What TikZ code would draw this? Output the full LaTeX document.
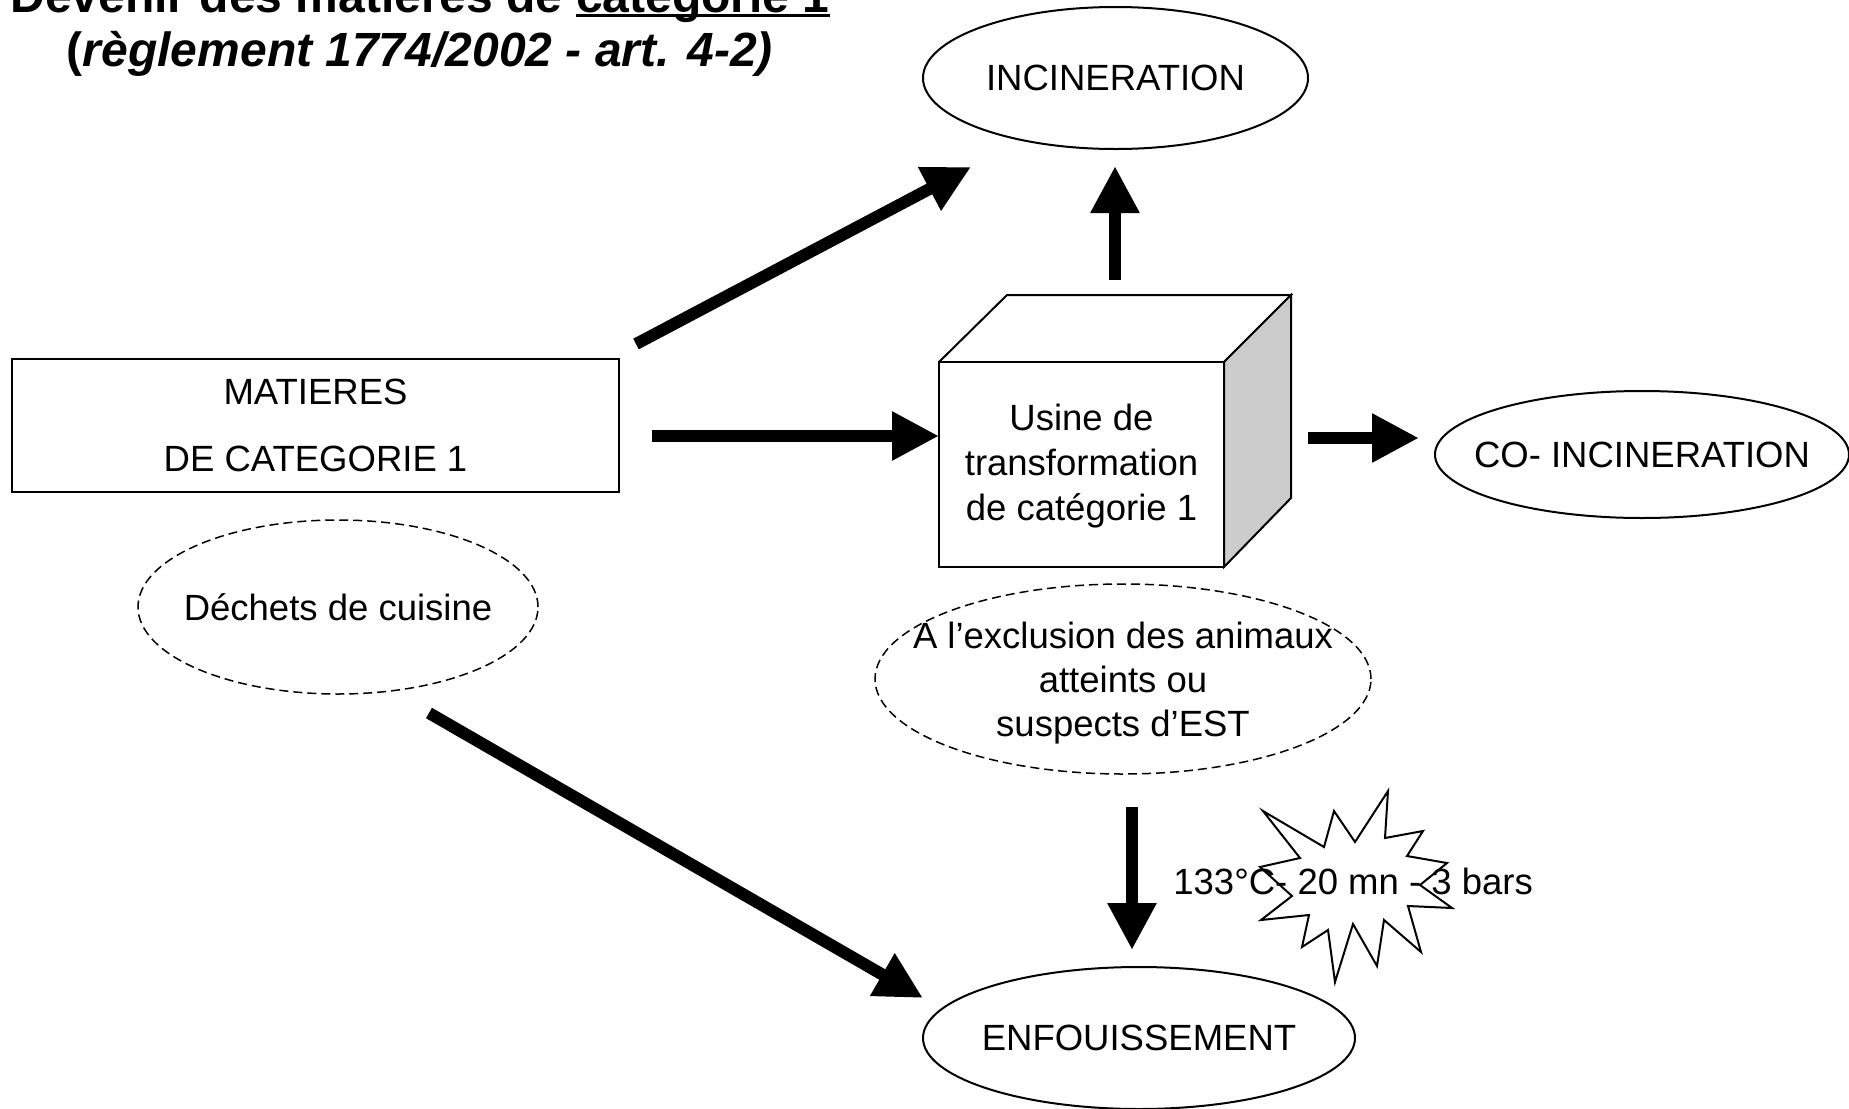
\documentclass[tikz,border=0pt]{standalone}
\usepackage{fontspec}
\setmainfont{Liberation Sans}
\usetikzlibrary{shapes.geometric,arrows.meta}
\definecolor{cubeside}{RGB}{204,204,204}
\newcommand\myul[1]{\setbox0\hbox{#1}\rlap{\rule[-0.11em]{\wd0}{0.06em}}\box0}
\begin{document}
\begin{tikzpicture}[x=0.5pt,y=-0.5pt]
\tikzset{
  lbl/.style={font=\fontsize{18.25}{22}\selectfont, inner sep=0pt},
  titlefont/.style={font=\fontsize{24}{28}\selectfont\bfseries, inner sep=0pt, anchor=base},
  oval/.style={ellipse, draw, line width=1pt, lbl, inner xsep=-60pt, inner ysep=-25pt},
  dashoval/.style={ellipse, draw, line width=0.75pt, dash pattern=on 4.5pt off 2.5pt, lbl, inner xsep=-60pt, inner ysep=-25pt},
  bigarrow/.style={line width=6pt, -{Triangle[length=23.5pt,width=23pt]}},
  thinline/.style={line width=1pt},
}
\useasboundingbox (0,0) rectangle (1849,1109);
\fill[white] (0,0) rectangle (1849,1109);
\clip (0,0) rectangle (1849,1109);

% title
\node[titlefont] (t1) at (420,12) {Devenir des matières de \myul{catégorie 1}};
\node[titlefont] (t2) at (420,66) {(\textit{règlement 1774/2002 - art. 4-2)}};

% nodes
\node[draw, thinline, lbl, align=center, minimum width=303.5pt, minimum height=66.5pt,
      font=\fontsize{18.25}{33.5}\selectfont] (mat) at (315.5,425.5) {MATIERES\\DE CATEGORIE 1};
\node[oval, minimum width=192.5pt, minimum height=71pt] (inc) at (1115.5,78) {INCINERATION};
\node[oval, minimum width=207pt, minimum height=63.5pt] (coinc) at (1642,454.5) {CO- INCINERATION};
\node[oval, minimum width=216pt, minimum height=71pt] (enf) at (1139,1038) {ENFOUISSEMENT};
\node[dashoval, minimum width=200pt, minimum height=87pt] (dech) at (338,607) {Déchets de cuisine};
\node[dashoval, align=center, minimum width=248pt, minimum height=95pt] (excl) at (1123,679)
  {\rule{0pt}{17pt}A l’exclusion des animaux\\atteints ou\\suspects d’EST};

% cube
\node[draw, thinline, fill=white, lbl, outer sep=0pt, align=center, minimum width=142.5pt, minimum height=102.5pt,
      font=\fontsize{18.25}{22.5}\selectfont] (usine) at (1081.5,464.5) {\rule{0pt}{15pt}Usine de\\transformation\\de catégorie 1};
\coordinate (btl) at (1007,295);
\coordinate (btr) at (1291,295);
\coordinate (bbr) at (1291,498);
\draw[thinline, line join=miter] (usine.north west) -- (btl) -- (btr) -- (usine.north east);
\draw[thinline, fill=cubeside, line join=miter] (usine.north east) -- (btr) -- (bbr) -- (usine.south east) -- cycle;

% starburst and condition label
\draw[thinline, fill=white, line join=miter]
  (1388,791) -- (1385,838) -- (1423,831) -- (1407,856) -- (1447,863) -- (1420,885) --
  (1452,908) -- (1408,906) -- (1421,952) -- (1384,920) -- (1377,966) -- (1353,924) --
  (1335,982) -- (1328,930) -- (1302,947) -- (1309,915) -- (1261,920) -- (1292,896) --
  (1260,867) -- (1300,858) -- (1263,811) -- (1324,847) -- (1334,811) -- (1355,842) -- cycle;
\node[lbl, anchor=base west] (cond) at (1173,894) {133°C- 20 mn - 3 bars};

% arrows
\coordinate (a1s) at (636,344);  \coordinate (a1e) at (971,167);
\coordinate (a2s) at (652,436);  \coordinate (a2e) at (939,436);
\coordinate (a3s) at (1115,280); \coordinate (a3e) at (1115,166);
\coordinate (a4s) at (1308,438); \coordinate (a4e) at (1419,438);
\coordinate (a5s) at (1132,807); \coordinate (a5e) at (1132,950);
\coordinate (a6s) at (429,713);  \coordinate (a6e) at (923,998);
\draw[bigarrow] (a1s) -- (a1e);
\draw[bigarrow] (a2s) -- (a2e);
\draw[bigarrow] (a3s) -- (a3e);
\draw[bigarrow] (a4s) -- (a4e);
\draw[bigarrow] (a5s) -- (a5e);
\draw[bigarrow] (a6s) -- (a6e);
\end{tikzpicture}
\end{document}
